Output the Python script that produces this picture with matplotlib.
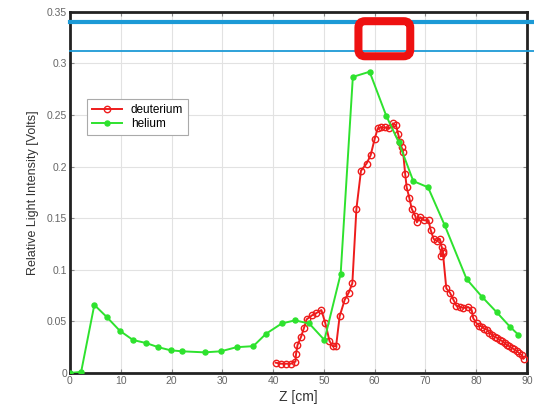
import matplotlib
matplotlib.use("Agg")
import matplotlib.pyplot as plt
from matplotlib.patches import FancyBboxPatch
import numpy as np

plt.rcParams["font.family"] = ["Liberation Sans", "DejaVu Sans"]

# helium scan
z_he = [0, 2.2, 4.8, 7.3, 9.8, 12.4, 15.0, 17.4, 19.8, 22.1, 26.5, 29.7, 32.8,
        36.1, 38.6, 41.7, 44.3, 47.1, 50.1, 53.3, 55.7, 59.0, 62.3, 64.7, 67.6,
        70.5, 73.8, 78.1, 81.1, 84.0, 86.6, 88.3]
i_he = [0, 0.001, 0.066, 0.054, 0.041, 0.032, 0.029, 0.025, 0.022, 0.021, 0.020,
        0.021, 0.025, 0.026, 0.038, 0.048, 0.051, 0.048, 0.032, 0.096, 0.287,
        0.292, 0.249, 0.224, 0.186, 0.180, 0.143, 0.091, 0.074, 0.059, 0.045, 0.037]

# deuterium scan
z_d = [40.5, 41.5, 42.5, 43.5, 44.4, 44.5, 44.8, 45.5, 46.1, 46.6, 47.7, 48.5,
       49.5, 50.3, 51.1, 51.7, 52.4, 53.1, 54.1, 54.9, 55.6, 56.4, 57.3, 58.4,
       59.2, 60.0, 60.6, 61.3, 62.1, 62.9, 63.6, 64.2, 64.6, 65.0, 65.3, 65.6,
       66.0, 66.3, 66.8, 67.3, 68.0, 68.3, 69.0, 69.7, 70.6, 71.0, 71.6, 72.2,
       72.8, 73.2, 73.5, 73.0, 73.4, 74.1, 74.8, 75.5, 76.1, 76.8, 77.4, 78.4,
       79.1, 79.4, 80.1, 80.6, 81.1, 81.6, 82.1, 82.6, 83.1, 83.6, 84.1, 84.6,
       85.1, 85.6, 86.0, 86.5, 87.0, 87.5, 88.0, 88.5, 89.0, 89.3]
i_d = [0.010, 0.009, 0.009, 0.009, 0.011, 0.018, 0.027, 0.035, 0.044, 0.052,
       0.056, 0.058, 0.061, 0.048, 0.031, 0.026, 0.026, 0.055, 0.071, 0.078,
       0.087, 0.159, 0.196, 0.203, 0.211, 0.227, 0.237, 0.238, 0.238, 0.237,
       0.242, 0.240, 0.232, 0.224, 0.219, 0.214, 0.193, 0.180, 0.170, 0.159,
       0.152, 0.146, 0.151, 0.148, 0.148, 0.139, 0.130, 0.128, 0.130, 0.122,
       0.116, 0.113, 0.118, 0.082, 0.078, 0.071, 0.065, 0.064, 0.063, 0.064,
       0.061, 0.053, 0.048, 0.046, 0.045, 0.043, 0.042, 0.039, 0.037, 0.035,
       0.034, 0.032, 0.031, 0.029, 0.027, 0.026, 0.024, 0.023, 0.021, 0.019,
       0.017, 0.014]

x_ticks = [0, 10, 20, 30, 40, 50, 60, 70, 80, 90]
y_ticks = [0, 0.05, 0.1, 0.15, 0.2, 0.25, 0.3, 0.35]
y_tick_labels = ["0", "0.05", "0.1", "0.15", "0.2", "0.25", "0.3", "0.35"]

# horizontal reference lines and boxed region
ref_levels = [0.340, 0.312]
ref_widths = [3.0, 1.3]
box_z = [56.8, 67.0]
box_i = [0.307, 0.341]

fig = plt.figure(figsize=(5.34, 4.16), dpi=100)
ax = fig.add_axes([0.131, 0.1034, 0.856, 0.868])

ax.plot(z_d, i_d, "-o", color="#ee1c1c", lw=1.4, ms=4.6, mfc="none", mew=1.0,
        label="deuterium", zorder=3)
ax.plot(z_he, i_he, "-o", color="#2ee22e", lw=1.4, ms=3.6, label="helium", zorder=4)

for lvl, w in zip(ref_levels, ref_widths):
    ax.plot([0, 92], [lvl, lvl], color="#1c9ad6", lw=w, clip_on=False, zorder=5)

box = FancyBboxPatch((box_z[0], box_i[0]), box_z[1] - box_z[0], box_i[1] - box_i[0],
                     boxstyle="round,pad=0,rounding_size=1.3",
                     mutation_aspect=5.06 / 1026, fill=False,
                     ec="#ee1111", lw=5.8, zorder=6, clip_on=False)
ax.add_patch(box)

ax.set_xlim(0, 90)
ax.set_ylim(0, 0.35)
ax.set_xticks(x_ticks)
ax.set_yticks(y_ticks)
ax.set_yticklabels(y_tick_labels)
ax.grid(True, color="#e2e2e2", lw=0.8)
ax.tick_params(direction="in", length=3, top=True, right=True, labelsize=7.5,
               labelcolor="#666666", color="#888888", pad=2)
for s in ax.spines.values():
    s.set_linewidth(2)
    s.set_color("#222222")

ax.set_xlabel("Z [cm]", fontsize=10, color="#333333", labelpad=3)
ax.set_ylabel("Relative Light Intensity [Volts]", fontsize=9, color="#333333",
              labelpad=6)

leg = ax.legend(loc="upper left", bbox_to_anchor=(0.025, 0.775), fontsize=8.5,
                fancybox=False, edgecolor="#aaaaaa", framealpha=1,
                handlelength=2.5, borderpad=0.4, labelspacing=0.2)
leg.get_frame().set_linewidth(0.8)

fig.savefig("out.png", dpi=100)
